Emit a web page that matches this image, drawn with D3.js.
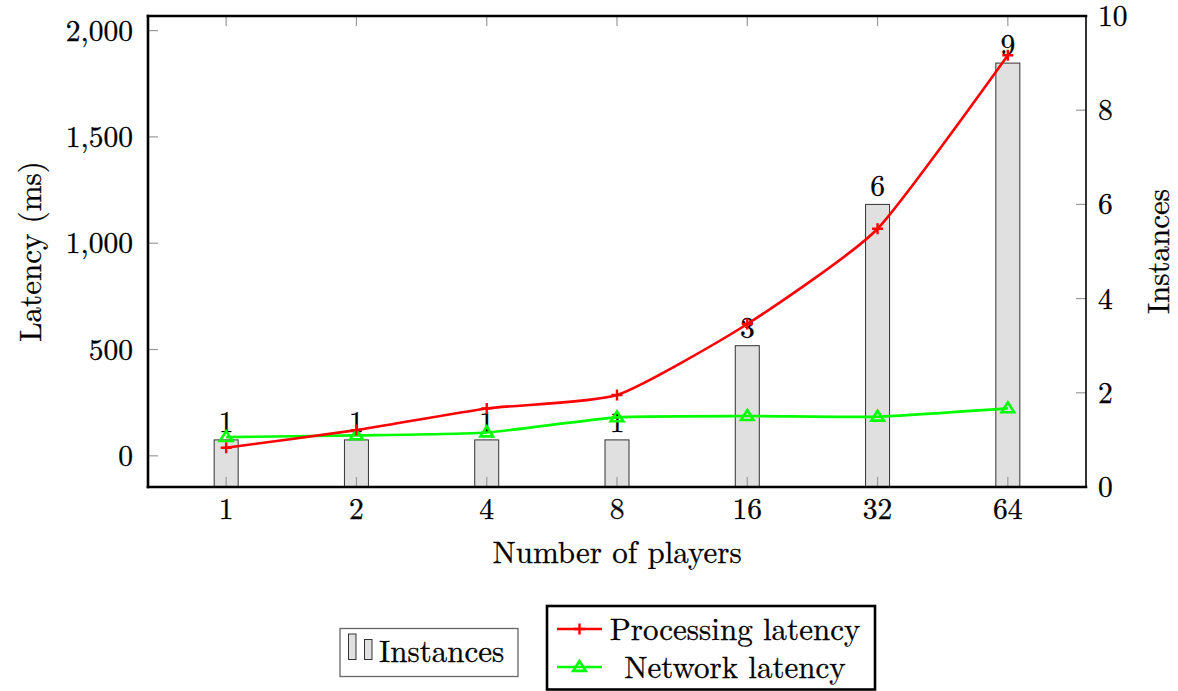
<!DOCTYPE html>
<html>
<head>
<meta charset="utf-8">
<script src="https://cdn.jsdelivr.net/npm/d3@7"></script>
<style>
  html, body { margin: 0; padding: 0; background: #fff; }
  svg text { fill: #000; stroke: #000; stroke-width: 0.3px; }
</style>
</head>
<body>
<svg id="chart" width="1178" height="691" font-family="'Latin Modern Roman', 'Liberation Serif', serif"></svg>
<script>
// Players per run (log2 x axis)
const players = [1, 2, 4, 8, 16, 32, 64];
// Server instances used (right axis, bars)
const instances = [1, 1, 1, 1, 3, 6, 9];
// Latencies in ms (left axis)
const processingLatency = [38, 121, 223, 286, 620, 1068, 1884];
const networkLatency = [88, 96, 110, 181, 187, 184, 223];
// Axis ticks
const latencyTicks = [0, 500, 1000, 1500, 2000];
const instanceTicks = [0, 2, 4, 6, 8, 10];

const svg = d3.select("#chart");
const box = { left: 148, right: 1086, top: 16, bottom: 487 };

// x: log2 with 10% enlargement on each side
const lx = d3.extent(players).map(Math.log2);
const xpad = (lx[1] - lx[0]) * 0.1;
const x = d3.scaleLog().base(2)
  .domain([Math.pow(2, lx[0] - xpad), Math.pow(2, lx[1] + xpad)])
  .range([box.left, box.right]);

// left y: latency, 10% enlargement
const all = processingLatency.concat(networkLatency);
const [lmin, lmax] = d3.extent(all);
const ypad = (lmax - lmin) * 0.1;
const yL = d3.scaleLinear().domain([lmin - ypad, lmax + ypad]).range([box.bottom, box.top]);
// right y: instances
const yR = d3.scaleLinear().domain([0, 10]).range([box.bottom, box.top]);

const numFont = 29.5, wordFont = 31;
const tickColor = "#9a9a9a", tickLen = 10;

// bars
const barW = 24;
svg.append("g").selectAll("rect").data(players).join("rect")
  .attr("x", (d) => x(d) - barW / 2)
  .attr("y", (d, i) => yR(instances[i]))
  .attr("width", barW)
  .attr("height", (d, i) => yR(0) - yR(instances[i]))
  .attr("fill", "#e0e0e0")
  .attr("stroke", "#333")
  .attr("stroke-width", 1);

// ticks (inside the frame)
const ticks = svg.append("g").attr("stroke", tickColor).attr("stroke-width", 1.2);
players.forEach((p) => {
  ticks.append("line").attr("x1", x(p)).attr("x2", x(p)).attr("y1", box.bottom).attr("y2", box.bottom - tickLen);
  ticks.append("line").attr("x1", x(p)).attr("x2", x(p)).attr("y1", box.top).attr("y2", box.top + tickLen);
});
latencyTicks.forEach((t) => {
  ticks.append("line").attr("x1", box.left).attr("x2", box.left + tickLen).attr("y1", yL(t)).attr("y2", yL(t));
});
instanceTicks.slice(1, -1).forEach((t) => {
  ticks.append("line").attr("x1", box.right).attr("x2", box.right - tickLen).attr("y1", yR(t)).attr("y2", yR(t));
});

// bar value labels
svg.append("g").selectAll("text").data(players).join("text")
  .attr("x", (d) => x(d))
  .attr("y", (d, i) => yR(instances[i]) - 8)
  .attr("text-anchor", "middle")
  .attr("font-size", numFont)
  .text((d, i) => instances[i]);

// lines
const curve = d3.curveCardinal.tension(0.45);
const line = (vals) => d3.line().curve(curve)
  .x((d, i) => x(players[i])).y((d) => yL(d))(vals);

svg.append("path").attr("d", line(networkLatency))
  .attr("fill", "none").attr("stroke", "#00ff00").attr("stroke-width", 2.6);
svg.append("path").attr("d", line(processingLatency))
  .attr("fill", "none").attr("stroke", "#ff0000").attr("stroke-width", 2.6);

function triangle(g, cx, cy) {
  const s = 6;
  g.append("path")
    .attr("d", `M${cx},${cy - s}L${cx + s * 1.05},${cy + s * 0.65}L${cx - s * 1.05},${cy + s * 0.65}Z`)
    .attr("fill", "none").attr("stroke", "#00ff00").attr("stroke-width", 2.6);
}
function plus(g, cx, cy) {
  const s = 5.5;
  g.append("path")
    .attr("d", `M${cx - s},${cy}H${cx + s}M${cx},${cy - s}V${cy + s}`)
    .attr("stroke", "#ff0000").attr("stroke-width", 2.4);
}
const marks = svg.append("g");
networkLatency.forEach((v, i) => triangle(marks, x(players[i]), yL(v)));
processingLatency.forEach((v, i) => plus(marks, x(players[i]), yL(v)));

// frame
const frame = svg.append("g").attr("stroke", "#000").attr("stroke-linecap", "square");
frame.append("line").attr("x1", box.left).attr("x2", box.right).attr("y1", box.top).attr("y2", box.top).attr("stroke-width", 2.6);
frame.append("line").attr("x1", box.left).attr("x2", box.right).attr("y1", box.bottom).attr("y2", box.bottom).attr("stroke-width", 2.6);
frame.append("line").attr("x1", box.left).attr("x2", box.left).attr("y1", box.top).attr("y2", box.bottom).attr("stroke-width", 2.6);
frame.append("line").attr("x1", box.right).attr("x2", box.right).attr("y1", box.top).attr("y2", box.bottom).attr("stroke-width", 1.6);

// tick labels
const fmt = d3.format(",");
svg.append("g").selectAll("text").data(latencyTicks).join("text")
  .attr("x", box.left - 15).attr("y", (d) => yL(d)).attr("dy", "0.34em")
  .attr("text-anchor", "end").attr("font-size", numFont).text(fmt);
svg.append("g").selectAll("text").data(instanceTicks).join("text")
  .attr("x", box.right + 12).attr("y", (d) => yR(d)).attr("dy", "0.34em")
  .attr("text-anchor", "start").attr("font-size", numFont).text((d) => d);
svg.append("g").selectAll("text").data(players).join("text")
  .attr("x", (d) => x(d)).attr("y", box.bottom + 32)
  .attr("text-anchor", "middle").attr("font-size", numFont).text((d) => d);

// axis titles
svg.append("text").attr("x", 617).attr("y", 563)
  .attr("text-anchor", "middle").attr("font-size", wordFont).text("Number of players");
svg.append("text").attr("transform", `translate(41,${(box.top + box.bottom) / 2}) rotate(-90)`)
  .attr("text-anchor", "middle").attr("font-size", wordFont).text("Latency (ms)");
svg.append("text").attr("transform", `translate(1169,${(box.top + box.bottom) / 2}) rotate(-90)`)
  .attr("text-anchor", "middle").attr("font-size", wordFont).text("Instances");

// legend: bars
const lg1 = svg.append("g");
lg1.append("rect").attr("x", 340).attr("y", 628.5).attr("width", 178).attr("height", 48)
  .attr("fill", "#fff").attr("stroke", "#666").attr("stroke-width", 1.3);
lg1.append("rect").attr("x", 348.5).attr("y", 634).attr("width", 7.5).attr("height", 25.5)
  .attr("fill", "#e0e0e0").attr("stroke", "#333").attr("stroke-width", 1);
lg1.append("rect").attr("x", 364.5).attr("y", 639.5).attr("width", 7.5).attr("height", 20)
  .attr("fill", "#e0e0e0").attr("stroke", "#333").attr("stroke-width", 1);
lg1.append("text").attr("x", 379).attr("y", 662).attr("font-size", wordFont).text("Instances");

// legend: lines
const lg2 = svg.append("g");
lg2.append("rect").attr("x", 547).attr("y", 606).attr("width", 328).attr("height", 83.5)
  .attr("fill", "#fff").attr("stroke", "#000").attr("stroke-width", 2.6);
const rows = [
  { name: "Processing latency", color: "#ff0000", mark: plus, y: 629 },
  { name: "Network latency", color: "#00ff00", mark: triangle, y: 667 }
];
rows.forEach((r) => {
  lg2.append("line").attr("x1", 557).attr("x2", 602).attr("y1", r.y).attr("y2", r.y)
    .attr("stroke", r.color).attr("stroke-width", 2.6);
  r.mark(lg2, 579.5, r.y);
  lg2.append("text").attr("x", 735).attr("y", r.y).attr("dy", "0.34em")
    .attr("text-anchor", "middle").attr("font-size", wordFont).text(r.name);
});
</script>
</body>
</html>
